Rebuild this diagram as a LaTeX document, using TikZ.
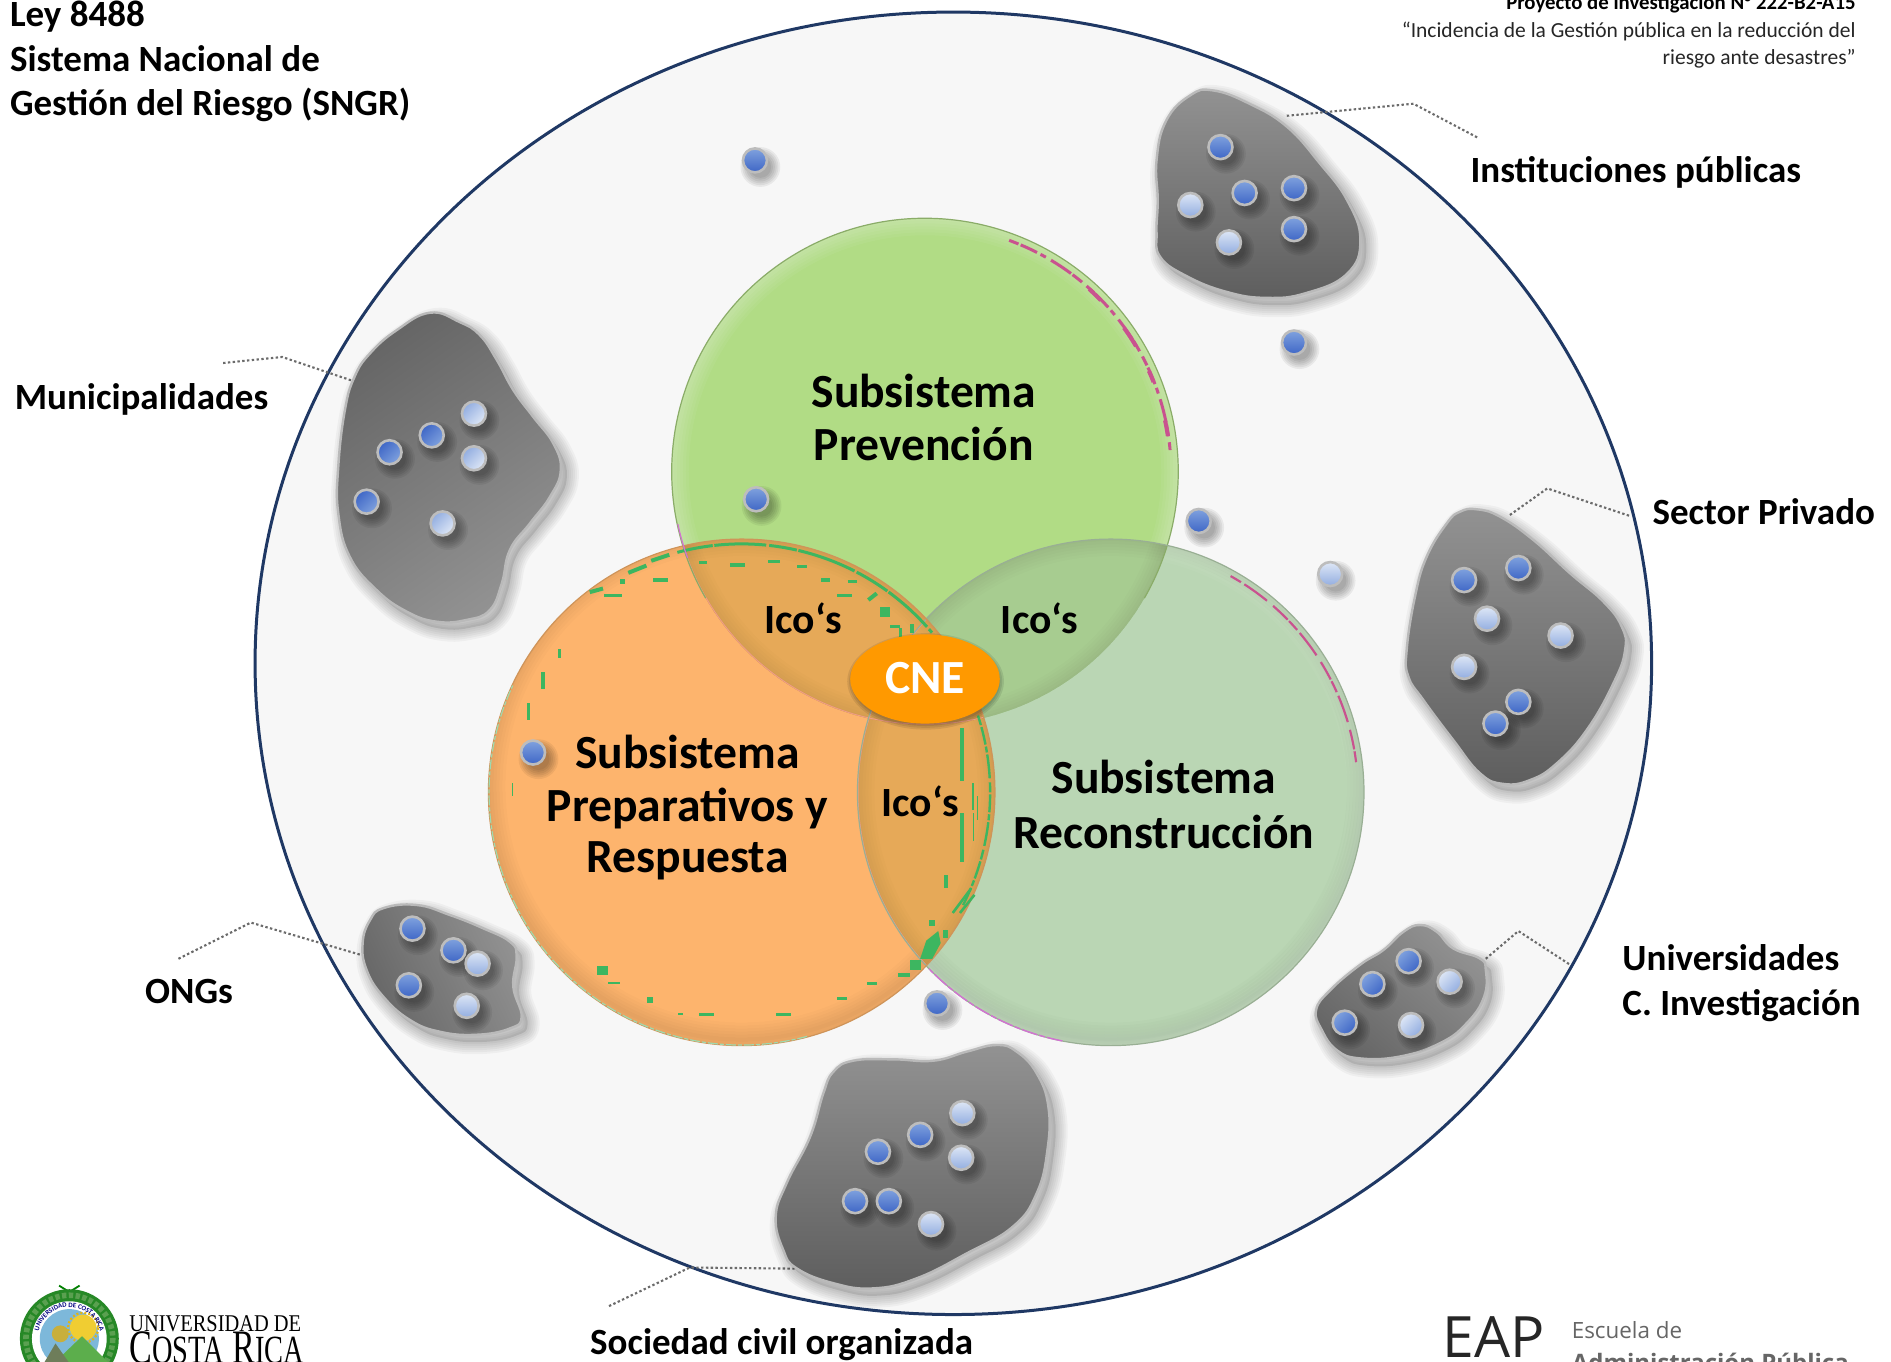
\documentclass[tikz,border=0pt]{standalone}
\usepackage{fontspec}
\setmainfont{Carlito}
\newfontfamily\logoserif{Liberation Serif}
\newfontfamily\logosans{Open Sans}
\usetikzlibrary{decorations.text,shapes.geometric}
\definecolor{navyring}{HTML}{1F3864}
\definecolor{ringfill}{HTML}{F7F7F7}
\definecolor{vgreen}{HTML}{B1DC85}
\definecolor{vorange}{HTML}{FDB46D}
\definecolor{vpale}{HTML}{BAD6B4}
\definecolor{ovorange}{HTML}{E6A958}
\definecolor{ovgreen}{HTML}{A7CC90}
\definecolor{speck}{HTML}{3DB660}
\definecolor{mag}{HTML}{C9528F}
\definecolor{lilac}{HTML}{D272D2}
\definecolor{pinkedge}{HTML}{F09C88}
\definecolor{dottop}{RGB}{128,162,222}
\definecolor{dotbot}{RGB}{62,102,198}
\definecolor{ltop}{RGB}{222,231,246}
\definecolor{lbot}{RGB}{146,173,224}
\definecolor{cneor}{RGB}{255,153,0}
\definecolor{gA}{HTML}{929292}
\definecolor{gB}{HTML}{5E5E5E}
\definecolor{gC}{HTML}{666666}
\tikzset{
  lbl/.style={inner sep=0pt,font=\fontsize{18.5}{20}\selectfont\bfseries,text=black},
  bigl/.style={inner sep=0pt,font=\fontsize{23.8}{24}\selectfont\bfseries,text=black},
  icol/.style={inner sep=0pt,font=\fontsize{20.8}{22}\selectfont\bfseries,text=black},
  small/.style={inner sep=0pt,font=\fontsize{10.75}{11}\selectfont,text=black!85,anchor=base east},
  blobbase/.style={draw=black!27,line width=1.2pt},
  blobv/.style={blobbase,top color=gA,bottom color=gB},
  blobm/.style={blobbase,top color=gC,bottom color=gA,shading angle=35},
  blobu/.style={blobbase,top color=gA,bottom color=gC,shading angle=-40},
  blobo/.style={blobbase,top color=gA,bottom color=gC,shading angle=-65},
  softline/.style={draw=black,draw opacity=.035,line join=round},
  softfill/.style={fill=black,fill opacity=.1},
  dotbase/.style={circle,draw=black!26,line width=1.3pt,inner sep=0pt,minimum size=12pt},
  dd/.style={dotbase,top color=dottop,bottom color=dotbot},
  dl/.style={dotbase,top color=ltop,bottom color=lbot},
  ddm/.style={dotbase,top color=dotbot,bottom color=dottop,shading angle=45},
  dlm/.style={dotbase,top color=lbot,bottom color=ltop,shading angle=45},
  ddu/.style={dotbase,top color=dottop,bottom color=dotbot,shading angle=45},
  dlu/.style={dotbase,top color=ltop,bottom color=lbot,shading angle=45},
  leader/.style={draw=black!58,line width=1.05pt,dash pattern=on 1.2pt off 1.2pt},
  specks/.style={draw=speck,line width=1.5pt},
  spk/.style={fill=speck},
  magspecks/.style={draw=mag,line width=1.5pt},
}
\newcommand\softblob[2]{%
  \fill[softfill,shift={(5,6)}] plot[smooth cycle,tension=.75] coordinates {#2};
  \foreach \w in {12,10,8,6,4,2}
    \draw[softline,line width=\w pt,shift={(5,6)}] plot[smooth cycle,tension=.75] coordinates {#2};
  \path[#1] plot[smooth cycle,tension=.75] coordinates {#2};
}
\newcommand\rimlayers[3]{% colour, opacity, circle centre
  \foreach \w in {2,5,8,11,14,17}
    \draw[#1,opacity=#2,line width=\w pt] #3 circle[radius=210];
}
\begin{document}
\begin{tikzpicture}[x=0.603pt,y=-0.603pt]
\useasboundingbox (0,0) rectangle (1568,1129.35);
\clip (0,0) rectangle (1568,1129.35);
\fill[white] (0,0) rectangle (1568,1129.35);

% big ring
\draw[navyring,line width=1.5pt,fill=ringfill] (790.5,550) ellipse [x radius=579, y radius=540];

% leaders
\coordinate (la1) at (1067,96); \coordinate (la2) at (1172,86); \coordinate (la3) at (1225,114);
\coordinate (lb1) at (185,301); \coordinate (lb2) at (234,296); \coordinate (lb3) at (293,316);
\coordinate (lc1) at (1252,427); \coordinate (lc2) at (1283,405); \coordinate (lc3) at (1352,428);
\coordinate (ld1) at (1232,795); \coordinate (ld2) at (1259,772); \coordinate (ld3) at (1302,800);
\coordinate (le1) at (148,795); \coordinate (le2) at (208,765); \coordinate (le3) at (300,792);
\coordinate (lf1) at (505,1083); \coordinate (lf2) at (572,1051); \coordinate (lf3) at (665,1052);
\draw[leader] (la1)--(la2)--(la3);
\draw[leader] (lb1)--(lb2)--(lb3);
\draw[leader] (lc1)--(lc2)--(lc3);
\draw[leader] (ld1)--(ld2)--(ld3);
\draw[leader] (le1)--(le2)--(le3);
\draw[leader] (lf1)--(lf2)--(lf3);

% blobs
\softblob{blobv}{(1006,75)(1036,86)(1067,105)(1094,135)(1117,166)(1128,199)(1117,227)(1083,243)(1050,247)(1017,242)(984,229)(962,213)(959,193)(960,166)(959,133)(967,100)(987,79)}
\softblob{blobm}{(356.5,259.3)(381,267)(398,278)(412,298.6)(425.6,323.4)(442,345.5)(458.8,367.7)(465,390)(456,412)(439.4,434)(422.8,456)(416,484)(406,506)(387,514)(362,515.5)(337,507)(312,489)(290,461.6)(280.5,425.7)(280.5,387)(286,340)(294,312.4)(306.8,293)(329,273.7)}
\softblob{blobv}{(1224.5,422.3)(1243.8,428.4)(1271.5,447.8)(1301.9,475.4)(1329.5,498.9)(1344.7,519.6)(1347.5,539)(1337.8,566.6)(1315.7,605.3)(1290.8,633)(1268.7,646.8)(1246.6,650)(1227.2,641.2)(1205,613.6)(1180.2,580.4)(1167.8,561)(1166.4,539)(1173.3,494.7)(1183,461.6)(1199.6,434)(1210.6,424.3)}
\softblob{blobu}{(1177.5,767)(1191.3,772.6)(1205,786.4)(1227,794.7)(1232,804.3)(1230.6,826.5)(1216,848.6)(1194,865)(1161,876)(1127.7,877.6)(1108.4,870.7)(1096,854)(1091.3,837.5)(1103,821)(1127.7,800)(1147,787.8)(1163.7,772.6)}
\softblob{blobo}{(318,753)(345.5,750.4)(373,758.7)(400.8,769.8)(423,781)(428.4,793)(425.6,818)(432.5,843)(423,852.7)(395.2,858)(364.8,855.5)(340,845.8)(317.8,826.4)(304,804.3)(300.7,782)(306.8,763)}
\softblob{blobv}{(826.4,866.5)(843,872)(859.6,890)(869.3,917.7)(868.5,953.6)(859.6,989.5)(840,1017)(801.6,1039.3)(760,1060)(724.2,1068.3)(691,1064)(660.6,1051.7)(649.5,1036.5)(643.2,1009)(652.3,981)(671.7,942.6)(682.7,906.6)(691,888.7)(707.6,879.5)(740.8,878.4)(774,879.5)(801.6,872)}

% Venn
\coordinate (cg) at (767,391);
\coordinate (co) at (615,657);
\coordinate (cp) at (921,657);
\coordinate (cgs) at (767,387);
\coordinate (cos) at (615,652);
\coordinate (cps) at (921,652);
\fill[vgreen] (cg) circle[radius=210];
\begin{scope}\clip (cg) circle[radius=210];
  \rimlayers{white}{.05}{(cg)}
\end{scope}
\fill[vpale] (cp) circle[radius=210];
\begin{scope}\clip (cp) circle[radius=210];
  \rimlayers{black}{.013}{(cps)}
  \rimlayers{white}{.03}{(cp)}
\end{scope}
\fill[vorange] (co) circle[radius=210];
\begin{scope}\clip (co) circle[radius=210];
  \rimlayers{black}{.017}{(cos)}
\end{scope}
\begin{scope}\clip (cg) circle[radius=210]; \clip (cp) circle[radius=210];
  \fill[ovgreen] (cp) circle[radius=210];
  \rimlayers{black}{.01}{(cp)}
  \rimlayers{black}{.01}{(cg)}
\end{scope}
\begin{scope}\clip (co) circle[radius=210];
  \begin{scope}\clip (cp) circle[radius=210];
    \fill[ovorange] (cp) circle[radius=210];
    \rimlayers{black}{.012}{(cp)}
    \rimlayers{black}{.012}{(co)}
  \end{scope}
  \begin{scope}\clip (cg) circle[radius=210];
    \fill[ovorange] (cg) circle[radius=210];
    \rimlayers{black}{.012}{(cg)}
    \rimlayers{black}{.012}{(co)}
  \end{scope}
  \draw[draw=pinkedge,line width=.45pt] (cp) circle[radius=209.5];
  \draw[draw=pinkedge,line width=.45pt] (cg) circle[radius=209.5];
\end{scope}
\draw[line width=.6pt,draw=black!22!vgreen] (cg) ++(-210:210) arc[start angle=-210,end angle=30,radius=210];
\draw[line width=.6pt,draw=black!18!vpale] (cp) circle[radius=210];
\draw[line width=.6pt,draw=black!18!vorange] (co) circle[radius=210];

% rendering specks along the rims
\draw[specks,dash pattern=on 18pt off .8pt on 26pt off 1.5pt on 14pt off .8pt on 30pt off 1.2pt] (co) ++(-105:206) arc[start angle=-105,end angle=-40,radius=206];
\draw[specks,dash pattern=on 5pt off 1pt on 9pt off 1pt on 3pt off 1pt on 12pt off 2pt,line width=1.2pt] (co) ++(-18:206) arc[start angle=-18,end angle=27,radius=206];
\draw[draw=speck!50!white,line width=.6pt,dash pattern=on 5pt off 1pt on 2pt off 1pt] (co) ++(75:209.5) arc[start angle=75,end angle=205,radius=209.5];
\foreach \a/\b/\c/\d in {541.7/479.6/554.2/482.9, 500.8/492.6/515.5/495.4, 463/538.4/464.9/545.9, 449/557/452.2/571.6, 436.7/583.2/439.5/597, 424.4/649/425.2/660,
  605.3/467.1/617.7/469.9, 579.9/465.2/586/466.5, 579.9/467/586/468, 637/464.4/647/467, 660.6/468.5/669/471.3, 681/479.6/688/482.3, 703.5/481/710.4/483.7, 693.8/492.8/706.2/495.3, 729.7/503/738/511.3, 738/518/746.3/521, 745.7/521/747.7/528, 754.6/517/758/525,
  796/604/799.4/648, 796/674.4/799.4/714.5, 783/725.5/785.8/736.6, 805.7/649.5/807.5/671.6, 806.5/674/807.3/697, 810/660/811/680,
  495.3/800.7/504.4/808.4, 504.4/814/514/816, 536.7/827/541.1/831.4, 579.8/839.7/592/842.4, 643.4/839.7/655.6/842.4, 694.3/827/702.6/829, 719.1/814.2/727.4/817, 562.4/839.7/566.6/841.6, 514/480/518/484,
  744.8/807/754.5/810.4, 754.5/796/764/804.3, 770.5/762.8/775.3/767.8, 782/771/786.3/778}
  \fill[spk] (\a,\b) rectangle (\c,\d);
\draw[specks,line width=2pt] (521,475)--(536,469) (540,465)--(555,460) (489,491)--(500,488) (720,497.5)--(727,492);
\fill[spk] (763,795)--(768,780)--(778,772)--(780,782)--(773,795)--cycle;
\draw[specks,line width=1.3pt] (790,757)--(805,737) (796,757)--(808,742);
\draw[magspecks,dash pattern=on 5pt off 1.2pt on 9pt off 2pt on 3pt off 3pt on 12pt off 1pt on 6pt off 3pt] (cg) ++(-70:204) arc[start angle=-70,end angle=-5,radius=204];
\draw[magspecks,line width=2pt,dash pattern=on 8pt off 18pt on 11pt off 14pt on 6pt off 20pt] (cg) ++(-48:203.5) arc[start angle=-48,end angle=-8,radius=203.5];
\draw[magspecks,line width=1.1pt,dash pattern=on 6pt off 2pt on 14pt off 4pt on 10pt off 1pt] (cp) ++(-61:205) arc[start angle=-61,end angle=-7,radius=205];
\draw[draw=lilac,line width=.7pt,dash pattern=on 8pt off 1pt on 3pt off 1pt] (cp) ++(101:210) arc[start angle=101,end angle=136,radius=210];
\draw[draw=lilac,line width=.6pt] (cg) ++(160:209.5) arc[start angle=160,end angle=168,radius=209.5];

% dots
\foreach \n/\x/\y/\s in {f1/626/133/dd,f2/1073/284/dd,f3/627/414/dd,f4/994/432/dd,f5/442/624/dd,f6/777/832/dd,
 a1/1012/122/dd,a2/1032/160/dd,a3/1073/156/dd,a4/1073/190/dd,
 b2/358/361/ddm,b3/323/375/ddm,b5/304/416/ddm,
 c1/1214/481/dd,c2/1259/471/dd,c6/1259/582/dd,c7/1240/600/dd,
 d1/1168/797/ddu,d2/1138/816/ddu,d4/1115/848/ddu,
 e1/342/770/dd,e2/376/788/dd,e4/339/817/dd,
 g2/763/941/dd,g3/728/955/dd,g5/709/996/dd,g6/737/996/dd,
 f7/1103/476/dl,
 a5/987/170/dl,a6/1019/201/dl,
 b1/393/343/dlm,b4/393/380/dlm,b6/367/434/dlm,
 c3/1233/513/dl,c4/1294/527/dl,c5/1214/553/dl,
 d3/1202/814/dlu,d5/1170/850/dlu,
 e3/396/799/dl,e5/387/834/dl,
 g1/798/923/dl,g4/797/960/dl,g7/772/1015/dl}
{
 \foreach \r in {9,10.5,12,13.5,15,16.5}
   \fill[black,opacity=.06] (\x+4.5,\y+5.5) circle[radius=\r];
 \node[\s] (\n) at (\x,\y) {};
}

% CNE
\foreach \r in {0,1.5,3}
  \fill[black,opacity=.09] (767.5,565) ellipse[x radius=62+\r,y radius=37+\r];
\node[ellipse,fill=cneor,minimum width=74.8pt,minimum height=44.6pt,inner sep=0pt] (cne) at (767,563) {};
\node[inner sep=0pt,anchor=base,text=white,font=\fontsize{23.8}{24}\selectfont\bfseries] (cnet) at (767,575) {CNE};

% Venn labels
\node[bigl,anchor=base] (s1a) at (766,338) {Subsistema};
\node[bigl,anchor=base] (s1b) at (766,382) {Prevención};
\node[bigl,anchor=base] (s2a) at (570,637) {Subsistema};
\node[bigl,anchor=base] (s2b) at (570,681) {Preparativos y};
\node[bigl,anchor=base] (s2c) at (570,723.5) {Respuesta};
\node[bigl,anchor=base] (s3a) at (965,658) {Subsistema};
\node[bigl,anchor=base] (s3b) at (965,703.5) {Reconstrucción};
\node[icol,anchor=base] (i1) at (666,525) {Ico‘s};
\node[icol,anchor=base] (i2) at (862,525) {Ico‘s};
\node[icol,anchor=base] (i3) at (763,677) {Ico‘s};

% side labels
\node[lbl,anchor=base west] (t1) at (8,22) {Ley 8488};
\node[lbl,anchor=base west] (t2) at (8,59.5) {Sistema Nacional de};
\node[lbl,anchor=base west] (t3) at (8,96) {Gestión del Riesgo (SNGR)};
\node[lbl,anchor=base west] (n1) at (1219,151) {Instituciones públicas};
\node[lbl,anchor=base west] (n2) at (12,339.5) {Municipalidades};
\node[lbl,anchor=base west] (n3) at (1370,435) {Sector Privado};
\node[lbl,anchor=base west] (n4) at (1345,805) {Universidades};
\node[lbl,anchor=base west] (n5) at (1345,842) {C. Investigación};
\node[lbl,anchor=base west] (n6) at (120,832) {ONGs};
\node[lbl,anchor=base west] (n7) at (489,1123) {Sociedad civil organizada};

\node[small,font=\fontsize{10.4}{11}\selectfont\bfseries,text=black] (h1) at (1539,8) {Proyecto de investigación N° 222-B2-A15};
\node[small] (h2) at (1539,31) {“Incidencia de la Gestión pública en la reducción del};
\node[small] (h3) at (1539,53.5) {riesgo ante desastres”};

% UCR emblem
\coordinate (uc) at (57.5,1110);
\draw[line width=.9pt,draw=black!50!green] (50,1076)--(66,1066) (65,1076)--(49,1066);
\fill[fill=green!45!black!85] (uc) circle[radius=41];
\draw[draw={rgb,255:red,90;green,160;blue,80},line width=2.8pt,dash pattern=on 2.2pt off 1.2pt] (uc) circle[radius=36];
\fill[white] (uc) circle[radius=31];
\fill[fill={rgb,255:red,125;green,184;blue,218}] (uc) circle[radius=24.5];
\fill[fill={rgb,255:red,240;green,205;blue,50}] (69,1101) circle[radius=11];
\draw[draw={rgb,255:red,225;green,180;blue,20},line width=1.1pt,dash pattern=on 1pt off 1pt] (69,1101) circle[radius=12.5];
\fill[fill={rgb,255:red,200;green,175;blue,60}] (50,1106) circle[radius=7];
\fill[fill={rgb,255:red,92;green,174;blue,76}] (44,1131)--(68,1108)--(91,1131)--cycle;
\fill[fill={rgb,255:red,110;green,125;blue,90}] (36,1131)--(46,1114)--(58,1131)--cycle;
\path[postaction={decorate,decoration={text along path,text align=center,text={|\fontsize{3.4}{4}\selectfont\bfseries\color{blue!50!black}|UNIVERSIDAD DE COSTA RICA}}}] (uc) ++(168:26.2) arc[start angle=168,end angle=372,radius=26.2];

\node[inner sep=0pt,anchor=base west,xscale=.85,font=\logoserif\fontsize{12}{13}\selectfont] (u1) at (107,1104) {UNIVERSIDAD DE};
\node[inner sep=0pt,anchor=base west,xscale=.71,font=\logoserif\fontsize{24}{25}\selectfont] (u2) at (107,1131) {C{\fontsize{20}{21}\selectfont OSTA} R{\fontsize{20}{21}\selectfont ICA}};

\node[inner sep=0pt,anchor=base west,text=black!85,font=\logosans\fontsize{28.5}{29}\selectfont] (e1t) at (1196,1126) {EAP};
\node[inner sep=0pt,anchor=base west,text=black!60,font=\logosans\fontsize{11.2}{12}\selectfont] (e2t) at (1303,1110) {Escuela de};
\node[inner sep=0pt,anchor=base west,text=black!60,font=\logosans\fontsize{12}{13}\selectfont\bfseries] (e3t) at (1303,1137) {Administración Pública};
\end{tikzpicture}
\end{document}
